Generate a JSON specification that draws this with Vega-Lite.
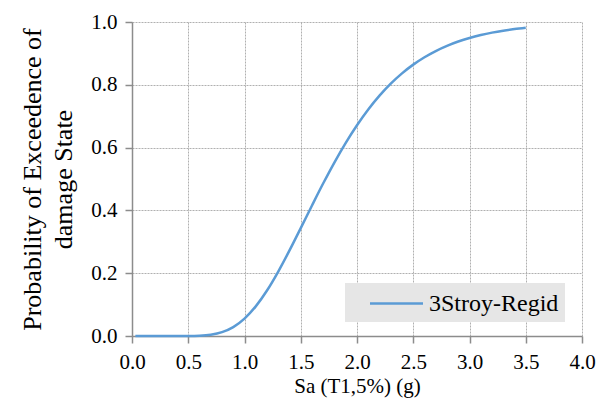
{
  "$schema": "https://vega.github.io/schema/vega-lite/v6.json",
  "width": 450,
  "height": 314,
  "autosize": {"type": "none"},
  "padding": {"left": 132, "top": 22, "right": 16, "bottom": 82},
  "background": "white",
  "data": {"values": [
    {"sa": 0.03, "p": 0.0, "series": "3Stroy-Regid"},
    {"sa": 0.1, "p": 0.0, "series": "3Stroy-Regid"},
    {"sa": 0.2, "p": 0.0, "series": "3Stroy-Regid"},
    {"sa": 0.3, "p": 0.0, "series": "3Stroy-Regid"},
    {"sa": 0.4, "p": 0.00002, "series": "3Stroy-Regid"},
    {"sa": 0.5, "p": 0.00014, "series": "3Stroy-Regid"},
    {"sa": 0.6, "p": 0.001, "series": "3Stroy-Regid"},
    {"sa": 0.7, "p": 0.0041, "series": "3Stroy-Regid"},
    {"sa": 0.8, "p": 0.0122, "series": "3Stroy-Regid"},
    {"sa": 0.9, "p": 0.0284, "series": "3Stroy-Regid"},
    {"sa": 1.0, "p": 0.0554, "series": "3Stroy-Regid"},
    {"sa": 1.1, "p": 0.0943, "series": "3Stroy-Regid"},
    {"sa": 1.2, "p": 0.1448, "series": "3Stroy-Regid"},
    {"sa": 1.3, "p": 0.2053, "series": "3Stroy-Regid"},
    {"sa": 1.4, "p": 0.2725, "series": "3Stroy-Regid"},
    {"sa": 1.5, "p": 0.3437, "series": "3Stroy-Regid"},
    {"sa": 1.6, "p": 0.4158, "series": "3Stroy-Regid"},
    {"sa": 1.7, "p": 0.4864, "series": "3Stroy-Regid"},
    {"sa": 1.8, "p": 0.5532, "series": "3Stroy-Regid"},
    {"sa": 1.9, "p": 0.6152, "series": "3Stroy-Regid"},
    {"sa": 2.0, "p": 0.6713, "series": "3Stroy-Regid"},
    {"sa": 2.1, "p": 0.7214, "series": "3Stroy-Regid"},
    {"sa": 2.2, "p": 0.7655, "series": "3Stroy-Regid"},
    {"sa": 2.3, "p": 0.8037, "series": "3Stroy-Regid"},
    {"sa": 2.4, "p": 0.8365, "series": "3Stroy-Regid"},
    {"sa": 2.5, "p": 0.8643, "series": "3Stroy-Regid"},
    {"sa": 2.6, "p": 0.8879, "series": "3Stroy-Regid"},
    {"sa": 2.7, "p": 0.9076, "series": "3Stroy-Regid"},
    {"sa": 2.8, "p": 0.9241, "series": "3Stroy-Regid"},
    {"sa": 2.9, "p": 0.9378, "series": "3Stroy-Regid"},
    {"sa": 3.0, "p": 0.9491, "series": "3Stroy-Regid"},
    {"sa": 3.1, "p": 0.9584, "series": "3Stroy-Regid"},
    {"sa": 3.2, "p": 0.9661, "series": "3Stroy-Regid"},
    {"sa": 3.3, "p": 0.9724, "series": "3Stroy-Regid"},
    {"sa": 3.4, "p": 0.9775, "series": "3Stroy-Regid"},
    {"sa": 3.5, "p": 0.9817, "series": "3Stroy-Regid"}
  ]},
  "mark": {"type": "line", "interpolate": "monotone", "strokeWidth": 2.5},
  "encoding": {
    "x": {
      "field": "sa", "type": "quantitative",
      "scale": {"domain": [0, 4], "nice": false, "zero": false},
      "axis": {
        "title": "Sa (T1,5%) (g)",
        "values": [0, 0.5, 1, 1.5, 2, 2.5, 3, 3.5, 4],
        "format": ".1f",
        "labelFlush": false,
        "titlePadding": 3
      }
    },
    "y": {
      "field": "p", "type": "quantitative",
      "scale": {"domain": [0, 1], "nice": false},
      "axis": {
        "title": ["Probability of Exceedence of", "damage State"],
        "values": [0, 0.2, 0.4, 0.6, 0.8, 1.0],
        "format": ".1f",
        "labelFlush": false,
        "titlePadding": 14,
        "titleFontSize": 26,
        "titleLineHeight": 31
      }
    },
    "color": {
      "field": "series", "type": "nominal",
      "scale": {"range": ["#5b9bd5"]},
      "legend": {
        "title": null,
        "orient": "none",
        "legendX": 213,
        "legendY": 261,
        "fillColor": "#e6e6e6",
        "padding": 6,
        "symbolType": "M-2,0H2",
        "symbolSize": 702,
        "symbolStrokeWidth": 2.5,
        "symbolOffset": 31,
        "labelOffset": 18,
        "labelFont": "Liberation Serif, serif",
        "labelFontSize": 24,
        "labelColor": "#000000",
        "labelLimit": 300
      }
    }
  },
  "config": {
    "view": {"stroke": null},
    "font": "Liberation Serif, serif",
    "axis": {
      "labelFont": "Liberation Serif, serif",
      "titleFont": "Liberation Serif, serif",
      "labelFontSize": 21,
      "titleFontSize": 21,
      "titleFontWeight": "normal",
      "labelColor": "#000000",
      "titleColor": "#000000",
      "domainColor": "#8c8c8c",
      "domainWidth": 1.5,
      "tickColor": "#8c8c8c",
      "tickWidth": 1.5,
      "tickSize": 7,
      "labelPadding": 8,
      "gridColor": "#b0b0b0",
      "gridDash": [2, 1],
      "gridWidth": 1
    }
  }
}
